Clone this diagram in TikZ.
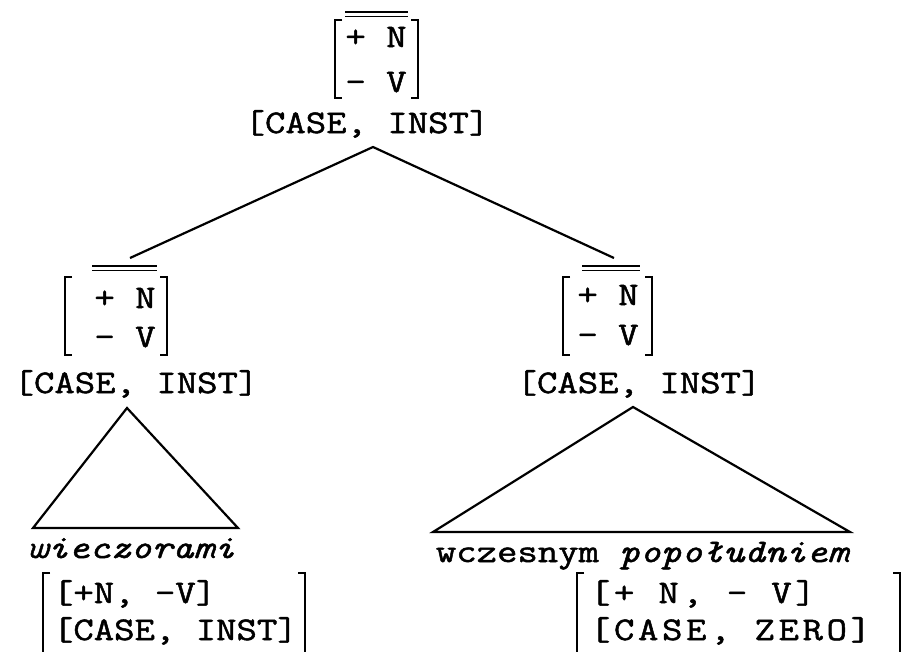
\documentclass[tikz,border=0pt]{standalone}
\usepackage{fontspec}
\setmonofont[FakeStretch=1.2,FakeBold=1.5,WordSpace={1,0,0},HyphenChar=None]{Latin Modern Mono}
\begin{document}
\begin{tikzpicture}[x=1pt,y=-1pt,line width=2pt,
  tx/.style={font=\fontsize{33}{36}\selectfont\ttfamily,inner sep=0pt,anchor=base},
  txl/.style={tx,anchor=base west},
  br/.style={line width=1.8pt},
  ovl/.style={line width=1.4pt},
  edge/.style={line width=2.2pt}]
\useasboundingbox (0,0) rectangle (907,651);
% root
\node[tx] (rpn) at (376,47) {+ N};
\node[tx] (rmv) at (376,92) {- V};
\draw[br] (342,20) -- (335,20) -- (335,98) -- (342,98);
\draw[br] (411,20) -- (418,20) -- (418,98) -- (411,98);
\draw[ovl] (345,12) -- (408,12);
\draw[ovl] (345,16.5) -- (408,16.5);
\node[tx] (root) at (367,133) {[CASE, INST]};
\coordinate (rtop) at (373,147);
% left child
\node[tx] (lpn) at (125,308) {+ N};
\node[tx] (lmv) at (125,347) {- V};
\draw[br] (72,277) -- (65,277) -- (65,355) -- (72,355);
\draw[br] (160,277) -- (167,277) -- (167,355) -- (160,355);
\draw[ovl] (92,266) -- (157,266);
\draw[ovl] (92,270.5) -- (157,270.5);
\node[tx] (lab) at (136,393) {[CASE, INST]};
\coordinate (lend) at (130,258);
% right child
\node[tx] (rpn2) at (608,305) {+ N};
\node[tx] (rmv2) at (608,345) {- V};
\draw[br] (570,277) -- (563,277) -- (563,355) -- (570,355);
\draw[br] (645,277) -- (652,277) -- (652,355) -- (645,355);
\draw[ovl] (582,266) -- (640,266);
\draw[ovl] (582,270.5) -- (640,270.5);
\node[tx] (rab) at (639,393) {[CASE, INST]};
\coordinate (rend) at (614,258);
% root edges
\draw[edge] (lend) -- (rtop) -- (rend);
% left triangle
\coordinate (lt) at (127,408);
\coordinate (lbl) at (33,528);
\coordinate (lbr) at (238,528);
\draw[edge,line join=miter] (lt) -- (lbl) -- (lbr) -- cycle;
\node[tx] (wiec) at (131,558) {\itshape wieczorami};
\draw[br] (50,573) -- (43,573) -- (43,700);
\draw[br] (298,573) -- (305,573) -- (305,700);
\node[txl] (l1) at (52,603) {[+N, -V]};
\node[txl] (l2) at (52,640) {[CASE, INST]};
% right triangle
\coordinate (rt) at (633,407);
\coordinate (rbl) at (433,532);
\coordinate (rbr) at (850,532);
\draw[edge,line join=miter] (rt) -- (rbl) -- (rbr) -- cycle;
\node[tx] (wcz) at (642,562) {wczesnym \itshape popołudniem};
\draw[br] (584,573) -- (577,573) -- (577,700);
\draw[br] (893,573) -- (900,573) -- (900,700);
\node[txl] (r1) at (589,603) {\addfontfeature{LetterSpace=11}[+ N, - V]};
\node[txl] (r2) at (589,640) {\addfontfeature{LetterSpace=11}[CASE, ZERO]};
\end{tikzpicture}
\end{document}
